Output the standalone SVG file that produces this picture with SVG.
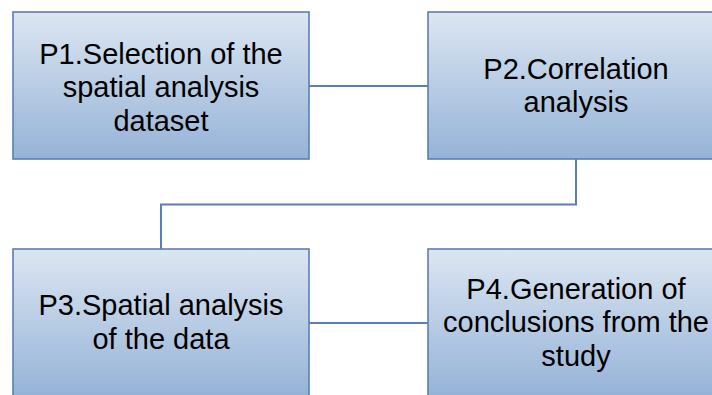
<svg xmlns="http://www.w3.org/2000/svg" width="712" height="395" viewBox="0 0 712 395">
<defs>
<linearGradient id="g" x1="0" y1="0" x2="0" y2="1">
<stop offset="0" stop-color="#dce6f2"/>
<stop offset="1" stop-color="#95b3d7"/>
</linearGradient>
<style>
.box{fill:url(#g);stroke:#5a7fb3;stroke-width:1.6}
.t{font-family:"Liberation Sans",Arial,sans-serif;font-size:29px;fill:#000;text-anchor:middle}
.c{fill:none;stroke:#5a7fb3;stroke-width:2}
</style>
</defs>
<rect width="712" height="395" fill="#fff"/>
<g id="connectors">
<line class="c" x1="309" y1="86" x2="428" y2="86"/>
<polyline class="c" points="576,159 576,204.5 161,204.5 161,249"/>
<line class="c" x1="309" y1="323" x2="428" y2="323"/>
</g>
<g id="P1">
<rect class="box" x="13" y="12" width="296" height="147"/>
<text class="t" x="161" y="63.5">P1.Selection of the</text>
<text class="t" x="161" y="97">spatial analysis</text>
<text class="t" x="161" y="130.5">dataset</text>
</g>
<g id="P2">
<rect class="box" x="428" y="12" width="296" height="147"/>
<text class="t" x="576" y="78.5">P2.Correlation</text>
<text class="t" x="576" y="112">analysis</text>
</g>
<g id="P3">
<rect class="box" x="13" y="249" width="296" height="147"/>
<text class="t" x="161" y="315">P3.Spatial analysis</text>
<text class="t" x="161" y="348.5">of the data</text>
</g>
<g id="P4">
<rect class="box" x="428" y="249" width="296" height="147"/>
<text class="t" x="576" y="298.5">P4.Generation of</text>
<text class="t" x="576" y="332">conclusions from the</text>
<text class="t" x="576" y="365.5">study</text>
</g>
</svg>
